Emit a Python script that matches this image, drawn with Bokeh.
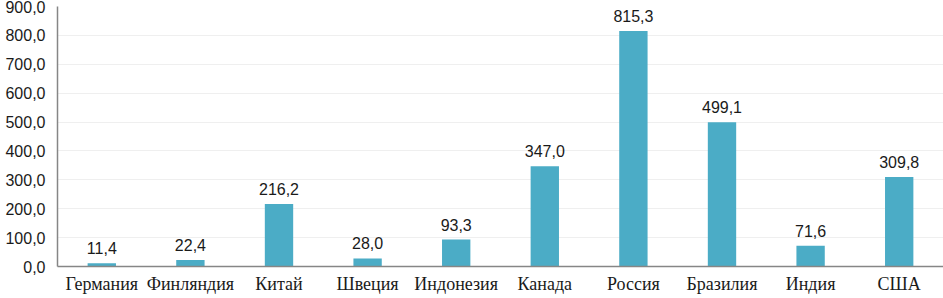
from bokeh.plotting import figure
from bokeh.models import ColumnDataSource, FixedTicker, FactorRange, Range1d
from bokeh.embed import file_html
from bokeh.resources import INLINE
from bokeh.core.properties import value

countries = ["Германия", "Финляндия", "Китай", "Швеция", "Индонезия",
             "Канада", "Россия", "Бразилия", "Индия", "США"]
values = [11.4, 22.4, 216.2, 28.0, 93.3, 347.0, 815.3, 499.1, 71.6, 309.8]
y_ticks = [0, 100, 200, 300, 400, 500, 600, 700, 800, 900]

def fmt(v):
    return f"{v:.1f}".replace(".", ",")

src = ColumnDataSource(dict(x=countries, top=values, label=[fmt(v) for v in values]))

p = figure(width=943, height=298, x_range=FactorRange(*countries, range_padding=0),
           y_range=Range1d(0, 900), output_backend="svg", toolbar_location=None,
           min_border_left=57, min_border_right=0, min_border_top=6, min_border_bottom=32)
p.x_range.range_padding = 0
p.outline_line_color = None
p.background_fill_color = "white"
p.border_fill_color = "white"

p.vbar(x="x", top="top", width=0.32, source=src, fill_color="#4BACC6", line_color=None)
p.text(x="x", y="top", text="label", source=src, text_align="center",
       text_baseline="bottom", y_offset=-9, text_font=value("Liberation Sans"),
       text_font_size="16px", text_color="#1a1a1a")

p.yaxis.ticker = FixedTicker(ticks=y_ticks)
p.yaxis.major_label_overrides = {t: fmt(t) for t in y_ticks}
p.yaxis.major_label_text_font = "Liberation Sans"
p.yaxis.major_label_text_font_size = "16px"
p.yaxis.major_label_text_color = "#1a1a1a"
p.yaxis.axis_line_color = "#868686"
p.yaxis.axis_line_width = 1.5
p.yaxis.major_tick_line_color = None
p.yaxis.minor_tick_line_color = None
p.yaxis.major_tick_out = 0
p.yaxis.major_tick_in = 0
p.yaxis.minor_tick_out = 0
p.yaxis.minor_tick_in = 0
p.yaxis.major_label_standoff = 12

p.xaxis.major_label_text_font = "Liberation Serif"
p.xaxis.major_label_text_font_size = "18px"
p.xaxis.major_label_text_color = "#1a1a1a"
p.xaxis.axis_line_color = "#868686"
p.xaxis.axis_line_width = 1.5
p.xaxis.major_tick_line_color = None
p.xaxis.minor_tick_line_color = None
p.xaxis.major_tick_out = 0
p.xaxis.major_tick_in = 0
p.xaxis.minor_tick_out = 0
p.xaxis.minor_tick_in = 0
p.xaxis.major_label_standoff = 7

p.xgrid.grid_line_color = None
p.ygrid.grid_line_color = "#efefef"

open("out.html", "w").write(file_html(p, INLINE))
